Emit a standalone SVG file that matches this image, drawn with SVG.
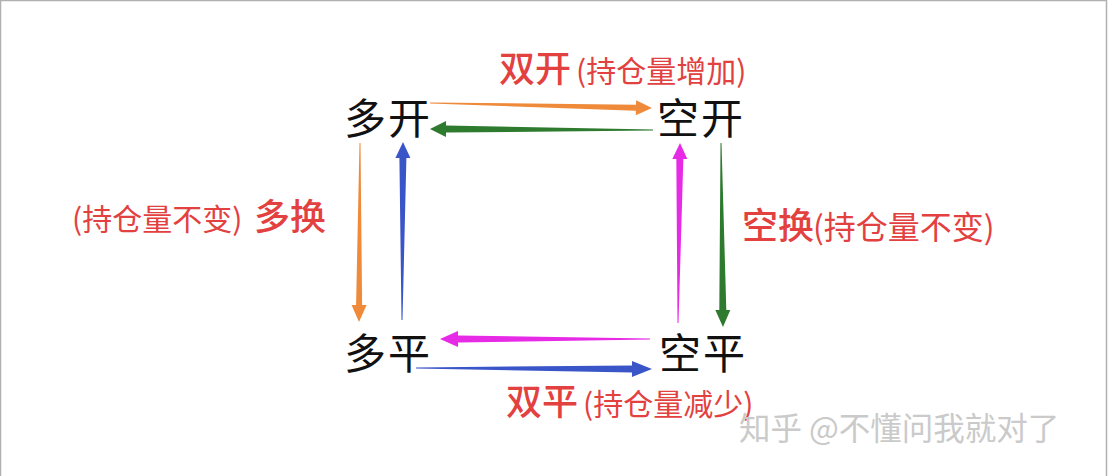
<svg xmlns="http://www.w3.org/2000/svg" width="1108" height="476" viewBox="0 0 1108 476">
<style>
.node{font-family:"Noto Sans CJK SC","Noto Sans",sans-serif;font-size:42px;fill:#111;letter-spacing:2px}
.lbl{font-family:"Noto Sans CJK SC","Noto Sans",sans-serif;fill:#E2413F}
.big{font-size:36px;font-weight:500}
.wm{font-family:"Noto Sans CJK SC","Noto Sans",sans-serif;font-size:31.5px;fill:#cacaca}
.orange{fill:#EE8A3A}.green{fill:#2E7A2E}.blue{fill:#3A55C8}.mag{fill:#E62AE6}
</style>
<rect x="0.5" y="0.5" width="1106" height="480" fill="#fff" stroke="#b0b0b0" stroke-width="1.5"/>
<g id="connectors">
<polygon class="orange" transform="translate(430,103) rotate(1.29)" points="0,-0.5 206,-3 206,-7.5 222,0 206,7.5 206,3 0,0.5"/>
<polygon class="green" transform="translate(653,130) rotate(180.26)" points="0,-0.5 207,-3.5 207,-8 223,0 207,8 207,3.5 0,0.5"/>
<polygon class="mag" transform="translate(650,339) rotate(180)" points="0,-0.5 192,-3.5 192,-8 210,0 192,8 192,3.5 0,0.5"/>
<polygon class="blue" transform="translate(416,368) rotate(0.24)" points="0,-0.5 216,-3.5 216,-8 236,0 216,8 216,3.5 0,0.5"/>
<polygon class="orange" transform="translate(360,143) rotate(90.32)" points="0,-0.5 162,-3 162,-7.5 179,0 162,7.5 162,3 0,0.5"/>
<polygon class="blue" transform="translate(402,320) rotate(-89.68)" points="0,-0.5 162,-3.5 162,-7.5 178,0 162,7.5 162,3.5 0,0.5"/>
<polygon class="mag" transform="translate(678,323) rotate(-89.36)" points="0,-0.5 164,-3.5 164,-7.5 180,0 164,7.5 164,3.5 0,0.5"/>
<polygon class="green" transform="translate(721,143) rotate(89.38)" points="0,-0.5 167,-3.5 167,-7.5 184,0 167,7.5 167,3.5 0,0.5"/>
</g>
<g id="node-duokai"><text class="node" x="344" y="134">多开</text></g>
<g id="node-kongkai"><text class="node" x="657" y="134">空开</text></g>
<g id="node-duoping"><text class="node" x="344" y="369">多平</text></g>
<g id="node-kongping"><text class="node" x="659" y="369">空平</text></g>
<g id="label-shuangkai"><text class="lbl" y="82"><tspan class="big" x="499" font-size="35">双开</tspan><tspan x="576" font-size="30">(持仓量增加)</tspan></text></g>
<g id="label-shuangping"><text class="lbl" y="415"><tspan class="big" x="506" font-size="35">双平</tspan><tspan x="583" font-size="30">(持仓量减少)</tspan></text></g>
<g id="label-duohuan"><text class="lbl" y="230"><tspan x="72" font-size="30">(持仓量不变)</tspan><tspan class="big" x="254">多换</tspan></text></g>
<g id="label-konghuan"><text class="lbl" y="239"><tspan class="big" x="742">空换</tspan><tspan x="813" font-size="32">(持仓量不变)</tspan></text></g>
<text class="wm" x="739" y="440">知乎 @不懂问我就对了</text>
</svg>
